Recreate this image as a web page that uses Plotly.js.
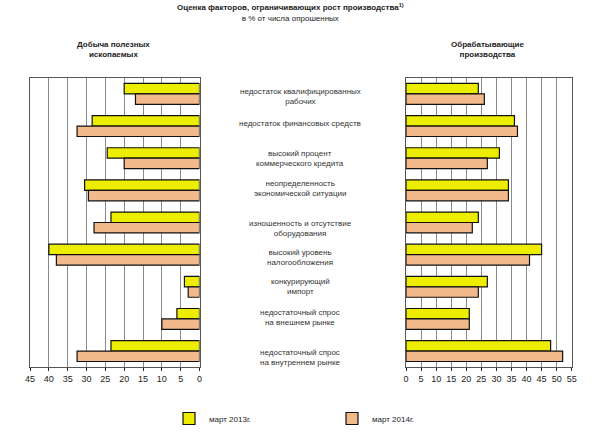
<!DOCTYPE html>
<html>
<head>
<meta charset="utf-8">
<script src="https://cdn.plot.ly/plotly-3.0.1.min.js"></script>
<style>html,body{margin:0;padding:0;background:#fff}#chart{width:600px;height:433px}</style>
</head>
<body>
<div id="chart"></div>
<script>
// ---- data ----
const categories = [
  "недостаток квалифицированных<br>рабочих",
  "недостаток финансовых средств",
  "высокий процент<br>коммерческого кредита",
  "неопределенность<br>экономической ситуации",
  "изношенность и отсутствие<br>оборудования",
  "высокий уровень<br>налогообложения",
  "конкурирующий<br>импорт",
  "недостаточный спрос<br>на внешнем рынке",
  "недостаточный спрос<br>на внутреннем рынке"
];
const seriesNames = ["март 2013г.", "март 2014г."];
const mining2013 = [20, 28.5, 24.5, 30.5, 23.5, 40, 4, 6, 23.5];
const mining2014 = [17, 32.5, 20, 29.5, 28, 38, 3, 10, 32.5];
const manuf2013 = [24, 36, 31, 34, 24, 45, 27, 21, 48];
const manuf2014 = [26, 37, 27, 34, 22, 41, 24, 21, 52];
const leftTicks = [0, 5, 10, 15, 20, 25, 30, 35, 40, 45];
const rightTicks = [0, 5, 10, 15, 20, 25, 30, 35, 40, 45, 50, 55];
const panelTitles = ["Добыча полезных<br>ископаемых", "Обрабатывающие<br>производства"];
const mainTitle = "Оценка факторов, ограничивающих рост производства";
const subTitle = "в % от числа опрошенных";

// ---- styling ----
const W = 600, H = 433;
const yellow = "#EDED00", peach = "#F2B98A";
const edge = {color: "#111", width: 1.2};
const px = v => v / W, py = v => 1 - v / H;
const yDom = [py(368), py(78)];

const traces = [
  {type: "bar", orientation: "h", y: categories, x: mining2013, name: seriesNames[0],
   xaxis: "x", yaxis: "y", marker: {color: yellow, line: edge}, legendgroup: "a", hoverinfo: "x"},
  {type: "bar", orientation: "h", y: categories, x: mining2014, name: seriesNames[1],
   xaxis: "x", yaxis: "y", marker: {color: peach, line: edge}, legendgroup: "b", hoverinfo: "x"},
  {type: "bar", orientation: "h", y: categories, x: manuf2013, name: seriesNames[0],
   xaxis: "x2", yaxis: "y2", marker: {color: yellow, line: edge}, legendgroup: "a", showlegend: false, hoverinfo: "x"},
  {type: "bar", orientation: "h", y: categories, x: manuf2014, name: seriesNames[1],
   xaxis: "x2", yaxis: "y2", marker: {color: peach, line: edge}, legendgroup: "b", showlegend: false, hoverinfo: "x"}
];

const xCommon = {
  showgrid: true, gridcolor: "#8a8a8a", gridwidth: 1,
  showline: true, linecolor: "#555", linewidth: 1, mirror: true,
  ticks: "outside", ticklen: 3, tickcolor: "#222",
  tickfont: {size: 9, color: "#222"}, zeroline: false, fixedrange: true
};
const yCommon = {
  type: "category", autorange: "reversed", showticklabels: false,
  showgrid: false, showline: true, linecolor: "#555", linewidth: 1, mirror: true,
  ticks: "", zeroline: false, domain: yDom, fixedrange: true
};

const labelShift = [-3, 3, 0, 2, -6, -3, 0, 1, -6];
const annotations = categories.map((c, i) => ({
  text: c, xref: "paper", yref: "y", x: 0.5, y: c, xanchor: "center", yanchor: "middle",
  yshift: labelShift[i], showarrow: false, font: {size: 8, color: "#333"}
}));
annotations.push(
  {text: "<b>" + mainTitle + "<sup>1)</sup></b><br>" + subTitle, xref: "paper", yref: "paper",
   x: px(290), y: py(13), xanchor: "center", yanchor: "middle", showarrow: false,
   font: {size: 8, color: "#222"}},
  {text: "<b>" + panelTitles[0] + "</b>", xref: "paper", yref: "paper", x: px(113), y: py(50),
   xanchor: "center", yanchor: "middle", showarrow: false, font: {size: 8, color: "#222"}},
  {text: "<b>" + panelTitles[1] + "</b>", xref: "paper", yref: "paper", x: px(487), y: py(50),
   xanchor: "center", yanchor: "middle", showarrow: false, font: {size: 8, color: "#222"}}
);

const layout = {
  width: W, height: H,
  margin: {l: 0, r: 0, t: 0, b: 0},
  paper_bgcolor: "#fff", plot_bgcolor: "#fff",
  font: {family: "Liberation Sans, Arial, sans-serif", size: 8, color: "#222"},
  barmode: "group", bargap: 0.35, bargroupgap: 0,
  xaxis: Object.assign({}, xCommon, {domain: [px(30), px(199.5)], range: [45, 0], tickvals: leftTicks, anchor: "y"}),
  xaxis2: Object.assign({}, xCommon, {domain: [px(406), px(571.7)], range: [0, 55], tickvals: rightTicks, anchor: "y2"}),
  yaxis: Object.assign({}, yCommon, {anchor: "x"}),
  yaxis2: Object.assign({}, yCommon, {anchor: "x2"}),
  showlegend: true,
  legend: {orientation: "h", x: px(169), y: py(419), xanchor: "left", yanchor: "middle",
           font: {size: 8, color: "#222"}, itemwidth: 30, entrywidth: 118, entrywidthmode: "pixels",
           bgcolor: "rgba(0,0,0,0)", traceorder: "normal"},
  annotations: annotations
};

Plotly.newPlot("chart", traces, layout, {displayModeBar: false, staticPlot: true});
</script>
</body>
</html>
